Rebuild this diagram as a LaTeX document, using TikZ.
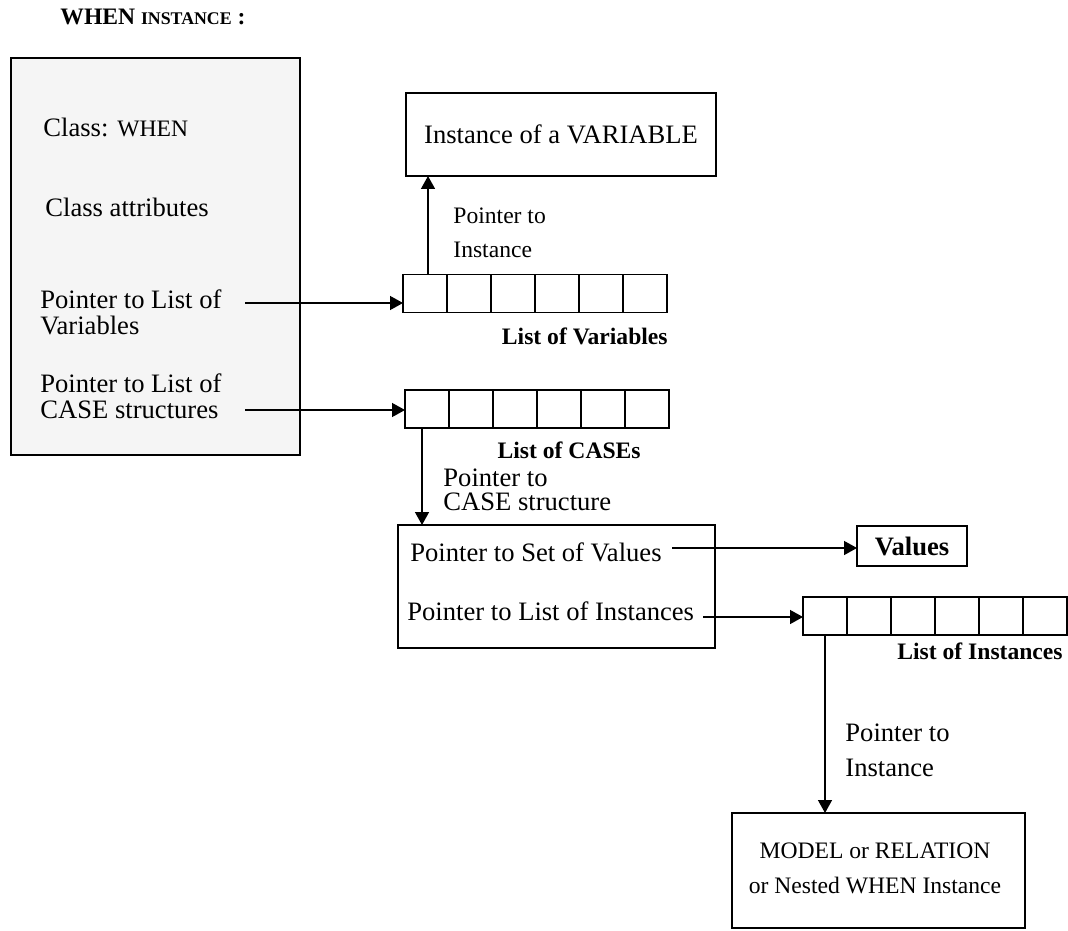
\documentclass[tikz,border=0pt]{standalone}
\usepackage{fontspec}
\setmainfont{Liberation Serif}
\usepackage{tikz}
\usetikzlibrary{positioning,arrows.meta}
\definecolor{whengray}{RGB}{245,245,245}
\newcommand\normtxt{\fontsize{13.3}{13}\selectfont}
\newcommand\smalltxt{\fontsize{11.8}{17}\selectfont}
\newcommand\capstxt{\fontsize{8.9}{10}\selectfont}

\begin{document}
\begin{tikzpicture}[
    x=0.5pt, y=-0.5pt,
    box/.style={draw, line width=0.7pt, inner sep=0pt, outer sep=0pt, font=\normtxt},
    cell/.style={draw, line width=0.7pt, minimum width=22pt, minimum height=19pt,
        inner sep=0pt, outer sep=0pt},
    txt/.style={inner sep=0pt, anchor=west, align=left, font=\normtxt},
    note/.style={inner sep=0pt, anchor=west, align=left, font=\smalltxt},
    listlabel/.style={inner sep=0pt, anchor=east, font=\smalltxt\bfseries},
    ptr/.style={line width=0.7pt, -{Triangle[length=6.5pt, width=7pt]}}
]
    \useasboundingbox (0,0) rectangle (1068,930);

    \node[inner sep=0pt, anchor=west, font=\smalltxt\bfseries] (title) at (60,17)
        {WHEN {\capstxt INSTANCE} :};

    % WHEN instance and its fields
    \node[box, fill=whengray, minimum width=144.5pt, minimum height=198.5pt] (whenbox) at (155.5,256.5) {};
    \node[txt] (classname) at (43,127) {Class: {\smalltxt WHEN}};
    \node[txt] (classattr) at (45,207) {Class attributes};
    \node[txt] (ptrvars) at (40,312.5) {Pointer to List of\\Variables};
    \node[txt] (ptrcases) at (40,396) {Pointer to List of\\CASE structures};
    \coordinate (varsout) at (245,303);
    \coordinate (casesout) at (245,410);

    % list of variables
    \node[box, minimum width=155pt, minimum height=41.5pt] (varbox) at (561,134.5) {Instance of a VARIABLE};
    \node[cell] (v1) at (425,293.5) {};
    \foreach \i/\j in {1/2,2/3,3/4,4/5,5/6}
        \node[cell, right=0pt of v\i] (v\j) {};
    \node[listlabel] (varslabel) at (668,336) {List of Variables};
    \node[note, font=\smalltxt] (ptrinst) at (453,233) {Pointer to\\Instance};

    % list of cases
    \node[cell] (c1) at (427,409) {};
    \foreach \i/\j in {1/2,2/3,3/4,4/5,5/6}
        \node[cell, right=0pt of c\i] (c\j) {};
    \node[listlabel] (caseslabel) at (641,450) {List of CASEs};
    \node[txt, font=\fontsize{13.3}{12}\selectfont] (ptrcase) at (443,490) {Pointer to\\CASE structure};

    % CASE structure
    \node[box, minimum width=158.5pt, minimum height=61.5pt] (casebox) at (556.5,586.5) {};
    \node[txt] (ptrset) at (410,552) {Pointer to Set of Values};
    \node[txt] (ptrinsts) at (407,611) {Pointer to List of Instances};
    \coordinate (setout) at (672,548);
    \coordinate (instsout) at (703,617);
    \node[box, minimum width=55pt, minimum height=20pt, font=\normtxt\bfseries] (valbox) at (912,546) {Values};

    % list of instances
    \node[cell] (i1) at (825,616) {};
    \foreach \i/\j in {1/2,2/3,3/4,4/5,5/6}
        \node[cell, right=0pt of i\i] (i\j) {};
    \node[listlabel] (instslabel) at (1063,651) {List of Instances};
    \node[txt, font=\fontsize{13.3}{17.5}\selectfont] (ptrmodel) at (845,750) {Pointer to\\Instance};

    \node[box, minimum width=146.5pt, minimum height=57.5pt] (modelbox) at (878.5,870.5) {};
    \node[inner sep=0pt, align=center, font=\fontsize{11.8}{17.5}\selectfont] (modeltext) at (875,868)
        {MODEL or RELATION\\or Nested WHEN Instance};

    \draw[ptr] (varsout) -- (varsout -| v1.west);
    \draw[ptr] (casesout) -- (casesout -| c1.west);
    \draw[ptr] ([xshift=1.5pt]v1.north) -- ([xshift=1.5pt]v1.north |- varbox.south);
    \draw[ptr] ([xshift=-2.5pt]c1.south) -- ([xshift=-2.5pt]c1.south |- casebox.north);
    \draw[ptr] (setout) -- (setout -| valbox.west);
    \draw[ptr] (instsout) -- (instsout -| i1.west);
    \draw[ptr] (i1.south) -- (i1.south |- modelbox.north);
\end{tikzpicture}
\end{document}
